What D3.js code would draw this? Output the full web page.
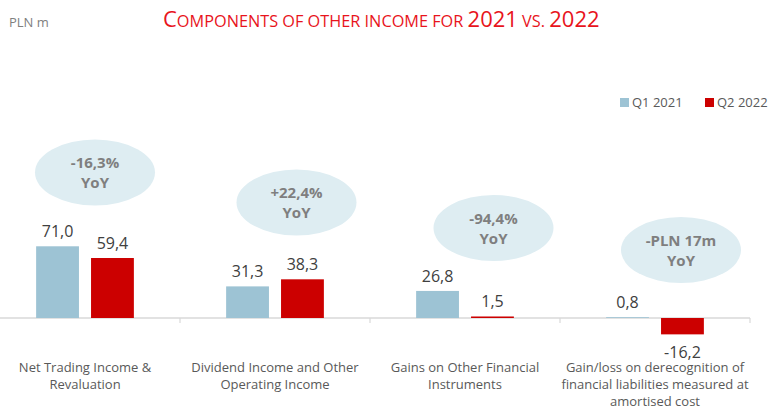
<!DOCTYPE html>
<html><head><meta charset="utf-8">
<script src="https://cdn.jsdelivr.net/npm/d3@7"></script>
<style>body{margin:0;background:#fff;} svg{display:block;font-family:"Open Sans",sans-serif;}</style>
</head><body>
<svg id="c" width="768" height="407"></svg>
<script>
const categories = ["Net Trading Income & Revaluation","Dividend Income and Other Operating Income","Gains on Other Financial Instruments","Gain/loss on derecognition of financial liabilities measured at amortised cost"];
const categoryLines = [["Net Trading Income &","Revaluation"],["Dividend Income and Other","Operating Income"],["Gains on Other Financial","Instruments"],["Gain/loss on derecognition of","financial liabilities measured at","amortised cost"]];
const seriesNames = ["Q1 2021","Q2 2022"];
const q1_2021 = [71.0, 31.3, 26.8, 0.8];
const q2_2022 = [59.4, 38.3, 1.5, -16.2];
const yoyLabels = ["-16,3%","+22,4%","-94,4%","-PLN 17m"];
const colors = ["#9dc3d4","#cc0000"];

const svg = d3.select("#c");
const x = d3.scaleBand().domain(categories).range([-10, 750]);
const xi = d3.scaleBand().domain(seriesNames).range([0, x.bandwidth()]).paddingInner(0.22).paddingOuter(0.84);
const y = d3.scaleLinear().domain([-20, 80]).range([318 + 20*1.01, 318 - 80*1.01]);
const fmt = v => d3.format(".1f")(v).replace(".", ",").replace("\u2212", "-");

// title
const t = svg.append("text").attr("x", 163).attr("y", 27).attr("fill", "#e8141c");
[["C",22],["OMPONENTS OF OTHER INCOME FOR ",16.3],["2021",22],[" VS. ",16.3],["2022",22]].forEach(([s,f])=>{
  t.append("tspan").attr("font-size", f).text(s);
});
svg.append("text").attr("x", 9).attr("y", 27).attr("font-size", 13).attr("fill", "#808080").text("PLN m");

// legend
const lg = svg.append("g");
[[620,"Q1 2021"],[705,"Q2 2022"]].forEach(([lx,name],i)=>{
  lg.append("rect").attr("x", lx).attr("y", 98).attr("width", 9).attr("height", 9).attr("fill", colors[i]);
  lg.append("text").attr("x", lx+12).attr("y", 107).attr("font-size", 13).attr("fill", "#595959").text(name);
});

// axis line
svg.append("line").attr("x1", 0).attr("x2", 750).attr("y1", y(0)).attr("y2", y(0)).attr("stroke", "#d9d9d9").attr("stroke-width", 1.5);
categories.forEach(c=>{
  const xe = x(c) + x.bandwidth();
  svg.append("line").attr("x1", xe).attr("x2", xe).attr("y1", y(0)).attr("y2", y(0)+5).attr("stroke", "#d9d9d9").attr("stroke-width", 1.2);
});

// bars
const data = categories.map((c,i)=>({c, vals:[q1_2021[i], q2_2022[i]]}));
const g = svg.selectAll("g.cat").data(data).join("g").attr("class","cat").attr("transform", d=>`translate(${x(d.c)},0)`);
g.selectAll("rect").data(d=>d.vals.map((v,j)=>({v, s:seriesNames[j], j}))).join("rect")
  .attr("x", d=>xi(d.s)).attr("width", xi.bandwidth())
  .attr("y", d=>Math.min(y(d.v), y(0))).attr("height", d=>Math.abs(y(d.v)-y(0)))
  .attr("fill", d=>colors[d.j]);
g.selectAll("text.val").data(d=>d.vals.map((v,j)=>({v, s:seriesNames[j]}))).join("text").attr("class","val")
  .attr("x", d=>xi(d.s)+xi.bandwidth()/2)
  .attr("y", d=> d.v >= 0 ? y(d.v) - 9 : y(d.v) + 23.5)
  .attr("text-anchor","middle").attr("font-size", 16).attr("fill", "#404040")
  .text(d=>fmt(d.v));

// category labels
categoryLines.forEach((lines,i)=>{
  const tx = svg.append("text").attr("text-anchor","middle").attr("font-size", 13).attr("fill", "#595959");
  lines.forEach((l,k)=>{
    tx.append("tspan").attr("x", x(categories[i]) + x.bandwidth()/2).attr("y", 372 + k*17).text(l);
  });
});

// YoY ellipses
const ell = [[95,172.5],[296.5,202.5],[493.5,228],[681,250]];
yoyLabels.forEach((lab,i)=>{
  const [cx,cy] = ell[i];
  svg.append("ellipse").attr("cx", cx).attr("cy", cy).attr("rx", 60).attr("ry", 33).attr("fill", "#deedf2");
  svg.append("text").attr("x", cx).attr("y", cy-4.5).attr("text-anchor","middle").attr("font-size", 15).attr("font-weight","bold").attr("fill","#7f7f7f").text(lab);
  svg.append("text").attr("x", cx).attr("y", cy+15.5).attr("text-anchor","middle").attr("font-size", 15).attr("font-weight","bold").attr("fill","#7f7f7f").text("YoY");
});
</script>
</body></html>
